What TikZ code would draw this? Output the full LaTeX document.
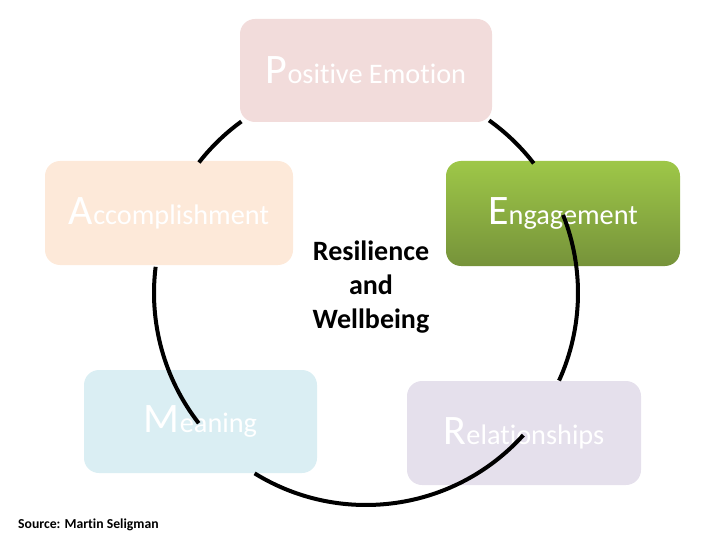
\documentclass[tikz,border=0pt]{standalone}
\usepackage{fontspec}
\setmainfont{Carlito}[Ligatures=NoCommon]
\definecolor{emotionpink}{RGB}{242,220,219}
\definecolor{achievepeach}{RGB}{253,233,217}
\definecolor{meaningblue}{RGB}{218,238,243}
\definecolor{relationlilac}{RGB}{229,224,236}
\definecolor{engagetop}{RGB}{158,199,72}
\definecolor{engagebottom}{RGB}{118,147,58}
\newcommand{\bigfirst}[2]{{\fontsize{42}{42}\selectfont #1}{\fontsize{28.3}{28.3}\selectfont #2}}

\begin{document}
\begin{tikzpicture}[
    x=1pt, y=-1pt,
    pillar/.style={rectangle, rounded corners=15pt, inner sep=0pt,
                   minimum width=234pt, minimum height=104pt, text=white},
    ringarc/.style={draw=black, line width=4pt}
]
\useasboundingbox (0,0) rectangle (720,540);

% Pillars
\node[pillar, fill=emotionpink, minimum width=252pt, minimum height=103pt] (emotion) at (366,70.5) {\bigfirst{P}{ositive Emotion}};
\node[pillar, fill=achievepeach, minimum width=248pt] (accomp) at (169,213) {\bigfirst{A}{ccomplishment}};
\node[pillar, top color=engagetop, bottom color=engagebottom, minimum height=105pt] (engage) at (563,213.5) {\bigfirst{E}{ngagement}};
\node[pillar, fill=meaningblue, minimum width=233pt, minimum height=103pt] (meaning) at (200.5,421.5) {\bigfirst{M}{eaning}};
\node[pillar, fill=relationlilac] (relation) at (524,433) {\bigfirst{R}{elationships}};

% Centre
\node[align=center, font=\fontsize{28}{34}\selectfont\bfseries] (core) at (371,287) {Resilience\\and\\Wellbeing};

% Source
\node[anchor=west, inner sep=0pt, font=\fontsize{13.7}{13.7}\selectfont\bfseries] (source) at (18,525) {Source: Martin Seligman};

% Ring
\coordinate (ring) at (366,293);
\draw[ringarc] (ring) ++(218:212) arc[start angle=218, end angle=234, radius=212];
\draw[ringarc] (ring) ++(305.5:212) arc[start angle=305.5, end angle=322.3, radius=212];
\draw[ringarc] (ring) ++(-21.6:212) arc[start angle=-21.6, end angle=24.4, radius=212];
\draw[ringarc] (ring) ++(42.1:212) arc[start angle=42.1, end angle=121.7, radius=212];
\draw[ringarc] (ring) ++(142.1:212) arc[start angle=142.1, end angle=187.1, radius=212];

\end{tikzpicture}
\end{document}
